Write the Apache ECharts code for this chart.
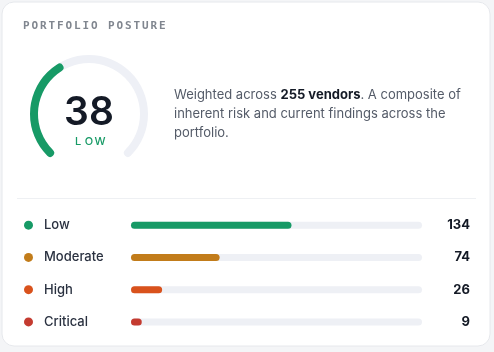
<!DOCTYPE html>
<html><head><meta charset="utf-8">
<script src="https://cdn.jsdelivr.net/npm/echarts@6/dist/echarts.min.js"></script>
<style>html,body{margin:0;padding:0;background:#f4f5f7;}#c{width:494px;height:352px;}</style>
</head><body><div id="c"></div>
<script>
const title = 'PORTFOLIO POSTURE';
const score = 38;
const scoreLabel = 'LOW';
const vendorCount = 255;
const categories = ['Low', 'Moderate', 'High', 'Critical'];
const counts = [134, 74, 26, 9];
const colors = ['#179a66', '#c27c1a', '#d9521c', '#c43b30'];
const total = counts.reduce((a, b) => a + b, 0);

const chart = echarts.init(document.getElementById('c'), null, {renderer: 'canvas'});

const graphics = [
  {type: 'rect', shape: {x: 2, y: 2, width: 488, height: 344, r: 12}, style: {fill: '#ffffff', stroke: '#e6e8ec', lineWidth: 1}, z: -10},
  {type: 'rect', shape: {x: 17, y: 198, width: 459, height: 1}, style: {fill: '#eef0f3'}},
  {type: 'text', style: {text: String(score), x: 89, y: 113, align: 'center', verticalAlign: 'middle', font: '600 39px Inter', fill: '#141a26'}},
  {type: 'text', style: {
    x: 174, y: 86, verticalAlign: 'top', lineHeight: 19,
    text: '{n|Weighted across }{b|' + vendorCount + ' vendors}{n|. A composite of}\n{n|inherent risk and current findings across the}\n{n|portfolio.}',
    rich: {
      n: {font: '400 13px Inter', fill: '#545b68', lineHeight: 19},
      b: {font: '700 13px Inter', fill: '#141a26', lineHeight: 19}
    }
  }}
];
// letter-spaced title
for (let i = 0; i < title.length; i++) {
  graphics.push({type: 'text', style: {text: title[i], x: 23 + i * 8.5, y: 26, verticalAlign: 'middle', font: 'bold 11px "DejaVu Sans Mono"', fill: '#80868f'}});
}
for (let i = 0; i < scoreLabel.length; i++) {
  graphics.push({type: 'text', style: {text: scoreLabel[i], x: 78 + i * 11, y: 142, align: 'center', verticalAlign: 'middle', font: '500 11px Inter', fill: '#179a66'}});
}

const rich = {};
categories.forEach((c, i) => {
  rich['d' + i] = {width: 9, height: 9, borderRadius: 4.5, backgroundColor: colors[i]};
});
rich.t = {fontFamily: 'Inter', fontSize: 13, fontWeight: 500, color: '#2a3140', padding: [0, 0, 0, 11]};

chart.setOption({
  animation: false,
  graphic: graphics,
  grid: {left: 131, right: 72, top: 209, height: 129},
  xAxis: {type: 'value', min: 0, max: total, show: false},
  yAxis: [
    {type: 'category', inverse: true, data: categories, axisLine: {show: false}, axisTick: {show: false},
     axisLabel: {align: 'left', margin: 107, formatter: (v, i) => '{d' + i + '|}{t|' + v + '}', rich: rich}},
    {type: 'category', inverse: true, position: 'right', data: counts.map(String), axisLine: {show: false}, axisTick: {show: false},
     axisLabel: {align: 'right', margin: 48, fontFamily: 'Inter', fontSize: 13, fontWeight: 700, color: '#141a26'}}
  ],
  series: [
    {type: 'bar', yAxisIndex: 0, barWidth: 7, data: counts.map((v, i) => ({value: v, itemStyle: {color: colors[i]}})),
     itemStyle: {borderRadius: 3.5}, showBackground: true, backgroundStyle: {color: '#eef0f5', borderRadius: 3.5}},
    {type: 'gauge', center: [89, 114], radius: 59, startAngle: 225, endAngle: -45, min: 0, max: 100,
     axisLine: {roundCap: true, lineStyle: {width: 8, color: [[1, '#eef0f6']]}},
     progress: {show: true, roundCap: true, width: 8, itemStyle: {color: '#179a66'}},
     pointer: {show: false}, axisTick: {show: false}, splitLine: {show: false}, axisLabel: {show: false},
     title: {show: false}, detail: {show: false}, anchor: {show: false},
     data: [{value: score}]}
  ]
});
</script></body></html>
